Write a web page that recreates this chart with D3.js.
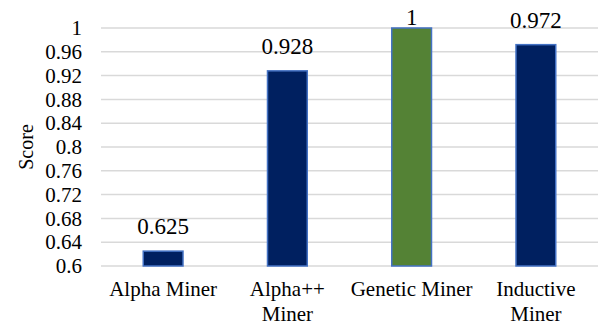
<!DOCTYPE html>
<html><head><meta charset="utf-8">
<script src="https://cdn.jsdelivr.net/npm/d3@7"></script>
<style>html,body{margin:0;padding:0;background:#fff}svg{display:block}</style>
</head><body>
<svg id="c" width="600" height="326" font-family="'Liberation Serif', 'Times New Roman', Times, serif"></svg>
<script>
const categories = ["Alpha Miner", "Alpha++ Miner", "Genetic Miner", "Inductive Miner"];
const labelLines = [["Alpha Miner"], ["Alpha++", "Miner"], ["Genetic Miner"], ["Inductive", "Miner"]];
const scores = [0.625, 0.928, 1, 0.972];
const valueLabels = ["0.625", "0.928", "1", "0.972"];
const barColors = ["#002060", "#002060", "#548235", "#002060"];
const yTicks = [0.6, 0.64, 0.68, 0.72, 0.76, 0.8, 0.84, 0.88, 0.92, 0.96, 1];
const yTickLabels = ["0.6", "0.64", "0.68", "0.72", "0.76", "0.8", "0.84", "0.88", "0.92", "0.96", "1"];
const yTitle = "Score";

const svg = d3.select("#c");
const m = {left: 101, right: 2, top: 28, bottom: 60};
const W = 600, H = 326;
const x = d3.scaleBand().domain(categories).range([m.left, W - m.right]).padding(0);
const y = d3.scaleLinear().domain([0.6, 1]).range([H - m.bottom, m.top]);

// gridlines
svg.append("g").selectAll("line").data(yTicks).join("line")
  .attr("x1", m.left).attr("x2", W - m.right)
  .attr("y1", d => y(d)).attr("y2", d => y(d))
  .attr("stroke", "#d9d9d9").attr("stroke-width", 1.5);

// y tick labels
svg.append("g").selectAll("text").data(yTicks).join("text")
  .attr("x", 82).attr("y", d => y(d)).attr("dy", "0.34em")
  .attr("text-anchor", "end").attr("font-size", 21).attr("fill", "#000")
  .text((d, i) => yTickLabels[i]);

// y title
svg.append("text")
  .attr("transform", `translate(33,${(y(0.6) + y(1)) / 2}) rotate(-90)`)
  .attr("text-anchor", "middle").attr("font-size", 20).attr("fill", "#000").text(yTitle);

// bars
const bw = x.bandwidth() * 0.32;
svg.append("g").selectAll("rect").data(categories).join("rect")
  .attr("x", d => x(d) + (x.bandwidth() - bw) / 2)
  .attr("width", bw)
  .attr("y", (d, i) => y(scores[i]))
  .attr("height", (d, i) => y(0.6) - y(scores[i]))
  .attr("fill", (d, i) => barColors[i])
  .attr("stroke", "#4472C4").attr("stroke-width", 1.5);

// value labels
svg.append("g").selectAll("text").data(categories).join("text")
  .attr("x", d => x(d) + x.bandwidth() / 2)
  .attr("y", (d, i) => Math.max(y(scores[i]) - 17, 25))
  .attr("text-anchor", "middle").attr("font-size", 23).attr("fill", "#000")
  .text((d, i) => valueLabels[i]);

// category labels
const cat = svg.append("g").selectAll("text").data(categories).join("text")
  .attr("x", d => x(d) + x.bandwidth() / 2)
  .attr("y", y(0.6) + 30)
  .attr("text-anchor", "middle").attr("font-size", 21).attr("fill", "#000");
cat.each(function(d, i) {
  d3.select(this).selectAll("tspan").data(labelLines[i]).join("tspan")
    .attr("x", x(d) + x.bandwidth() / 2)
    .attr("dy", (t, j) => j === 0 ? 0 : 25)
    .text(t => t);
});
</script>
</body></html>
